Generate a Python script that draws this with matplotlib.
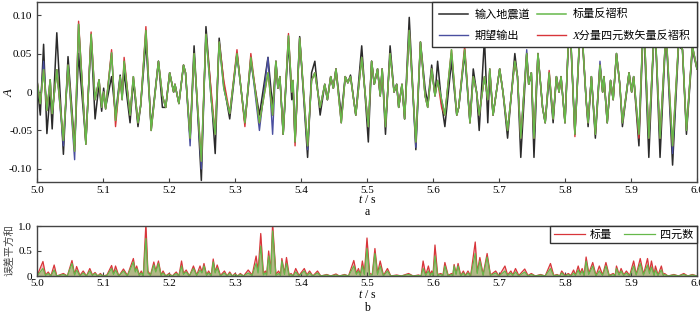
#!/usr/bin/env python3
"""
Deconvolution comparison: input trace vs desired output vs scalar / quaternion results,
plus squared error sum below.
"""

import matplotlib
matplotlib.use("Agg")
import matplotlib.pyplot as plt

plt.rcParams["font.family"] = ["Liberation Serif", "Noto Sans CJK SC"]
plt.rcParams["mathtext.fontset"] = "custom"
plt.rcParams["mathtext.it"] = "Liberation Serif:italic"
plt.rcParams["axes.unicode_minus"] = False

# extrema of the traces (t in s)
t_ext = [
    5.000, 5.005, 5.010, 5.015, 5.020, 5.023, 5.030, 5.040, 5.047, 5.057,
    5.063, 5.074, 5.082, 5.088, 5.094, 5.098, 5.101, 5.104, 5.113, 5.119,
    5.126, 5.129, 5.132, 5.141, 5.146, 5.153, 5.157, 5.165, 5.173, 5.184,
    5.190, 5.195, 5.201, 5.207, 5.209, 5.215, 5.222, 5.225, 5.232, 5.238,
    5.249, 5.256, 5.264, 5.270, 5.276, 5.283, 5.292, 5.303, 5.315, 5.324,
    5.337, 5.350, 5.357, 5.362, 5.365, 5.368, 5.373, 5.381, 5.386, 5.388,
    5.391, 5.398, 5.410, 5.416, 5.421, 5.429, 5.436, 5.440, 5.445, 5.449,
    5.453, 5.461, 5.467, 5.471, 5.475, 5.483, 5.492, 5.502, 5.507, 5.511,
    5.516, 5.520, 5.523, 5.528, 5.535, 5.541, 5.545, 5.548, 5.553, 5.557,
    5.564, 5.574, 5.581, 5.588, 5.592, 5.598, 5.603, 5.607, 5.613, 5.618,
    5.628, 5.636, 5.639, 5.648, 5.656, 5.661, 5.666, 5.670, 5.678, 5.683,
    5.686, 5.691, 5.701, 5.706, 5.713, 5.724, 5.728, 5.733, 5.742, 5.745,
    5.749, 5.753, 5.759, 5.766, 5.770, 5.776, 5.782, 5.787, 5.791, 5.794,
    5.800, 5.807, 5.815, 5.824, 5.832, 5.835, 5.840, 5.846, 5.853, 5.857,
    5.859, 5.864, 5.869, 5.873, 5.878, 5.883, 5.887, 5.897, 5.901, 5.904,
    5.912, 5.919, 5.927, 5.936, 5.944, 5.953, 5.963, 5.972, 5.978, 5.984,
    5.993, 6.000,
]

scalar_dec = [
    0.015, -0.015, 0.029, -0.024, 0.016, -0.028, 0.029, -0.063, 0.035, -0.077,
    0.088, -0.068, 0.075, -0.010, 0.016, -0.020, 0.000, -0.022, 0.051, -0.037,
    0.020, -0.010, 0.040, -0.030, 0.020, -0.040, -0.018, 0.080, -0.050, 0.040,
    -0.005, -0.020, 0.025, 0.000, 0.010, -0.015, 0.035, 0.025, -0.060, 0.050,
    -0.090, 0.075, -0.010, -0.055, 0.065, 0.005, -0.028, 0.050, -0.040, 0.045,
    -0.040, 0.025, -0.030, 0.040, 0.005, 0.020, -0.055, 0.073, 0.000, 0.015,
    -0.065, 0.070, -0.070, 0.015, 0.025, -0.020, 0.010, -0.010, 0.020, 0.005,
    0.030, -0.040, 0.020, 0.012, 0.020, -0.030, 0.045, -0.045, 0.040, 0.010,
    0.030, -0.005, 0.030, -0.045, 0.050, 0.000, 0.010, -0.020, 0.010, -0.035,
    0.080, -0.065, 0.065, -0.005, -0.020, 0.030, -0.005, 0.015, -0.010, -0.030,
    0.055, -0.030, -0.020, 0.055, -0.040, 0.020, 0.000, -0.030, 0.020, -0.010,
    0.030, -0.030, 0.030, 0.000, -0.050, 0.040, 0.020, -0.060, 0.050, 0.010,
    0.025, -0.060, 0.050, -0.020, -0.040, 0.025, -0.035, 0.020, 0.000, 0.020,
    -0.040, 0.105, -0.055, 0.105, -0.010, -0.040, 0.020, -0.055, 0.035, 0.000,
    0.020, -0.040, 0.015, -0.010, 0.050, 0.010, -0.040, 0.025, 0.000, 0.020,
    -0.055, 0.100, -0.060, 0.095, -0.060, 0.080, -0.070, 0.064, 0.055, -0.050,
    0.060, 0.030,
]

input_trace = [
    0.010, -0.030, 0.062, -0.054, 0.000, -0.048, 0.077, -0.081, 0.046, -0.070,
    0.050, -0.065, 0.070, -0.035, 0.010, -0.025, 0.005, -0.020, 0.020, -0.030,
    0.022, -0.005, 0.025, -0.040, 0.015, -0.045, -0.018, 0.065, -0.045, 0.040,
    -0.020, -0.020, 0.025, 0.000, 0.010, -0.015, 0.035, 0.025, -0.060, 0.060,
    -0.115, 0.085, -0.005, -0.080, 0.070, 0.010, -0.035, 0.050, -0.040, 0.040,
    -0.030, 0.045, -0.020, 0.040, 0.005, 0.020, -0.055, 0.065, -0.010, 0.005,
    -0.065, 0.072, -0.085, 0.025, 0.040, -0.030, 0.010, -0.010, 0.020, 0.005,
    0.030, -0.030, 0.020, 0.012, 0.022, -0.030, 0.060, -0.065, 0.040, 0.010,
    0.030, -0.005, 0.030, -0.055, 0.060, 0.000, 0.010, -0.020, 0.010, -0.035,
    0.097, -0.075, 0.065, 0.005, -0.015, 0.035, -0.005, 0.040, -0.015, -0.045,
    0.040, -0.030, -0.020, 0.050, -0.040, 0.030, 0.000, -0.050, 0.070, -0.040,
    0.025, -0.030, 0.030, 0.000, -0.060, 0.050, 0.020, -0.085, 0.050, 0.010,
    0.025, -0.085, 0.050, -0.020, -0.040, 0.020, -0.040, 0.020, 0.000, 0.020,
    -0.040, 0.100, -0.055, 0.100, -0.010, -0.045, 0.020, -0.060, 0.035, 0.000,
    0.020, -0.040, 0.015, -0.010, 0.050, 0.010, -0.045, 0.025, 0.000, 0.020,
    -0.070, 0.095, -0.085, 0.100, -0.085, 0.080, -0.095, 0.060, 0.055, -0.055,
    0.055, 0.030,
]

# where desired output / quaternion result depart visibly from the scalar result
desired_diff = {
    5.010: 0.040, 5.040: -0.070, 5.057: -0.088, 5.232: -0.070, 5.249: -0.100,
    5.337: -0.050, 5.350: 0.045, 5.357: -0.055, 5.410: -0.075, 5.574: -0.072,
    5.628: 0.050, 5.742: 0.055, 5.853: 0.040, 5.963: -0.080,
}
quat_diff = {
    5.063: 0.092, 5.082: 0.078, 5.113: 0.055, 5.119: -0.045, 5.132: 0.045,
    5.165: 0.085, 5.264: 0.000, 5.283: 0.015, 5.303: 0.055, 5.315: -0.045,
    5.324: 0.050, 5.381: 0.076, 5.391: -0.070, 5.613: -0.020, 5.648: 0.060,
    5.776: 0.028, 5.815: -0.058, 5.912: -0.060,
}

# squared error sum (lower panel)
err_t = [
    5.000, 5.009, 5.013, 5.017, 5.021, 5.026, 5.030, 5.040, 5.046, 5.053,
    5.057, 5.060, 5.065, 5.070, 5.075, 5.080, 5.084, 5.088, 5.092, 5.096,
    5.100, 5.106, 5.113, 5.116, 5.119, 5.124, 5.131, 5.137, 5.146, 5.149,
    5.151, 5.155, 5.158, 5.161, 5.165, 5.168, 5.172, 5.177, 5.180, 5.184,
    5.188, 5.191, 5.195, 5.200, 5.205, 5.211, 5.215, 5.219, 5.222, 5.226,
    5.231, 5.237, 5.242, 5.247, 5.250, 5.253, 5.257, 5.260, 5.264, 5.267,
    5.270, 5.273, 5.278, 5.284, 5.288, 5.292, 5.296, 5.300, 5.304, 5.308,
    5.313, 5.320, 5.326, 5.332, 5.335, 5.339, 5.343, 5.346, 5.348, 5.351,
    5.354, 5.357, 5.362, 5.366, 5.369, 5.371, 5.375, 5.378, 5.382, 5.385,
    5.388, 5.392, 5.397, 5.405, 5.409, 5.413, 5.418, 5.425, 5.430, 5.439,
    5.445, 5.453, 5.458, 5.466, 5.472, 5.480, 5.484, 5.487, 5.490, 5.493,
    5.496, 5.500, 5.504, 5.508, 5.512, 5.516, 5.520, 5.525, 5.531, 5.536,
    5.545, 5.552, 5.563, 5.570, 5.578, 5.582, 5.585, 5.589, 5.593, 5.596,
    5.598, 5.600, 5.603, 5.607, 5.612, 5.615, 5.618, 5.623, 5.628, 5.630,
    5.632, 5.635, 5.638, 5.642, 5.646, 5.649, 5.653, 5.657, 5.664, 5.667,
    5.671, 5.676, 5.682, 5.687, 5.695, 5.700, 5.709, 5.713, 5.718, 5.721,
    5.725, 5.730, 5.739, 5.744, 5.749, 5.755, 5.763, 5.770, 5.778, 5.783,
    5.788, 5.792, 5.795, 5.800, 5.805, 5.809, 5.813, 5.816, 5.820, 5.823,
    5.826, 5.829, 5.832, 5.836, 5.842, 5.847, 5.852, 5.857, 5.862, 5.867,
    5.873, 5.876, 5.878, 5.882, 5.885, 5.889, 5.893, 5.898, 5.904, 5.908,
    5.914, 5.919, 5.925, 5.928, 5.931, 5.935, 5.937, 5.941, 5.946, 5.949,
    5.951, 5.956, 5.965, 5.972, 5.980, 5.986, 5.993, 6.000,
]
err_scalar = [
    0.00, 0.29, 0.02, 0.08, 0.00, 0.22, 0.00, 0.05, 0.00, 0.31,
    0.03, 0.19, 0.01, 0.10, 0.00, 0.15, 0.02, 0.07, 0.00, 0.05,
    0.00, 0.02, 0.21, 0.05, 0.20, 0.00, 0.14, 0.01, 0.35, 0.10,
    0.20, 0.02, 0.10, 0.00, 1.05, 0.10, 0.02, 0.28, 0.10, 0.30,
    0.02, 0.10, 0.00, 0.05, 0.00, 0.08, 0.00, 0.30, 0.05, 0.12,
    0.00, 0.20, 0.02, 0.20, 0.08, 0.25, 0.02, 0.10, 0.01, 0.34,
    0.08, 0.22, 0.01, 0.10, 0.00, 0.08, 0.00, 0.05, 0.00, 0.05,
    0.00, 0.12, 0.02, 0.40, 0.10, 0.85, 0.05, 0.10, 0.03, 0.50,
    0.08, 1.05, 0.03, 0.10, 0.03, 0.35, 0.05, 0.37, 0.02, 0.05,
    0.00, 0.15, 0.01, 0.15, 0.02, 0.10, 0.00, 0.10, 0.00, 0.03,
    0.00, 0.04, 0.00, 0.03, 0.00, 0.31, 0.05, 0.15, 0.02, 0.30,
    0.05, 0.76, 0.05, 0.03, 0.55, 0.05, 0.30, 0.01, 0.15, 0.00,
    0.02, 0.00, 0.05, 0.00, 0.02, 0.00, 0.30, 0.02, 0.20, 0.02,
    0.10, 0.02, 0.62, 0.03, 0.05, 0.01, 0.27, 0.01, 0.05, 0.01,
    0.23, 0.05, 0.25, 0.01, 0.10, 0.01, 0.10, 0.00, 0.68, 0.08,
    0.37, 0.03, 0.45, 0.02, 0.10, 0.00, 0.20, 0.02, 0.10, 0.02,
    0.15, 0.01, 0.14, 0.01, 0.05, 0.00, 0.03, 0.00, 0.25, 0.01,
    0.03, 0.00, 0.10, 0.01, 0.05, 0.01, 0.12, 0.02, 0.20, 0.05,
    0.15, 0.02, 0.38, 0.05, 0.27, 0.01, 0.20, 0.02, 0.27, 0.01,
    0.05, 0.01, 0.20, 0.03, 0.15, 0.02, 0.10, 0.01, 0.30, 0.03,
    0.35, 0.03, 0.35, 0.08, 0.30, 0.02, 0.20, 0.02, 0.20, 0.02,
    0.05, 0.00, 0.03, 0.00, 0.05, 0.00, 0.03, 0.00,
]
err_quat = [
    0.00, 0.15, 0.01, 0.05, 0.00, 0.12, 0.00, 0.03, 0.00, 0.25,
    0.02, 0.12, 0.00, 0.06, 0.00, 0.10, 0.01, 0.05, 0.00, 0.03,
    0.00, 0.01, 0.15, 0.03, 0.12, 0.00, 0.10, 0.00, 0.28, 0.08,
    0.15, 0.01, 0.06, 0.00, 0.75, 0.06, 0.01, 0.22, 0.08, 0.25,
    0.01, 0.06, 0.00, 0.03, 0.00, 0.05, 0.00, 0.20, 0.03, 0.08,
    0.00, 0.15, 0.01, 0.12, 0.06, 0.20, 0.01, 0.06, 0.00, 0.28,
    0.06, 0.16, 0.00, 0.06, 0.00, 0.05, 0.00, 0.03, 0.00, 0.03,
    0.00, 0.06, 0.01, 0.25, 0.06, 0.60, 0.02, 0.06, 0.02, 0.40,
    0.05, 0.90, 0.01, 0.05, 0.01, 0.30, 0.03, 0.25, 0.01, 0.03,
    0.00, 0.08, 0.00, 0.10, 0.01, 0.06, 0.00, 0.06, 0.00, 0.02,
    0.00, 0.02, 0.00, 0.02, 0.00, 0.20, 0.03, 0.10, 0.01, 0.20,
    0.03, 0.55, 0.02, 0.02, 0.45, 0.03, 0.20, 0.00, 0.10, 0.00,
    0.01, 0.00, 0.03, 0.00, 0.01, 0.00, 0.15, 0.01, 0.10, 0.01,
    0.06, 0.01, 0.40, 0.01, 0.03, 0.00, 0.20, 0.00, 0.03, 0.00,
    0.20, 0.03, 0.20, 0.00, 0.06, 0.00, 0.06, 0.00, 0.45, 0.05,
    0.30, 0.01, 0.38, 0.01, 0.06, 0.00, 0.10, 0.01, 0.06, 0.01,
    0.08, 0.00, 0.08, 0.00, 0.03, 0.00, 0.02, 0.00, 0.15, 0.00,
    0.02, 0.00, 0.06, 0.00, 0.03, 0.00, 0.06, 0.01, 0.12, 0.03,
    0.10, 0.01, 0.30, 0.03, 0.20, 0.00, 0.10, 0.01, 0.20, 0.00,
    0.03, 0.00, 0.15, 0.02, 0.10, 0.01, 0.06, 0.00, 0.20, 0.02,
    0.25, 0.02, 0.22, 0.05, 0.18, 0.01, 0.12, 0.01, 0.12, 0.01,
    0.03, 0.00, 0.02, 0.00, 0.03, 0.00, 0.02, 0.00,
]

x_ticks = [5.0, 5.1, 5.2, 5.3, 5.4, 5.5, 5.6, 5.7, 5.8, 5.9, 6.0]
a_ticks = [0.10, 0.05, 0, -0.05, -0.10]
a_tick_labels = ["0.10", "0.05", "0", "-0.05", "-0.10"]

C_BLACK = "#2b2b2b"
C_BLUE = "#4a4fa0"
C_RED = "#d8353a"
C_GREEN = "#66b84a"


def style_axes(ax, xpad):
    ax.tick_params(direction="in", length=3, labelsize=8, color="#444444")
    ax.tick_params(axis="x", pad=xpad)
    for sp in ax.spines.values():
        sp.set_color("#444444")
        sp.set_linewidth(1.0)
    ax.set_xlim(5.0, 6.0)
    ax.set_xticks(x_ticks)
    ax.set_xticklabels([f"{v:.1f}" for v in x_ticks])


def main():
    fig = plt.figure(figsize=(7.0, 3.16), dpi=100)
    ax1 = fig.add_axes([37 / 700, 1 - 182 / 316, 660 / 700, 180 / 316])
    ax2 = fig.add_axes([37 / 700, 1 - 276 / 316, 660 / 700, 50 / 316])

    desired = [desired_diff.get(t, v) for t, v in zip(t_ext, scalar_dec)]
    quat = [quat_diff.get(t, v) for t, v in zip(t_ext, scalar_dec)]

    l_in, = ax1.plot(t_ext, input_trace, color=C_BLACK, lw=1.1, label="输入地震道")
    l_des, = ax1.plot(t_ext, desired, color=C_BLUE, lw=1.0, label="期望输出")
    l_q, = ax1.plot(t_ext, quat, color=C_RED, lw=1.0, label="X分量四元数矢量反褶积")
    l_s, = ax1.plot(t_ext, scalar_dec, color=C_GREEN, lw=1.1, label="标量反褶积")

    style_axes(ax1, 3)
    ax1.set_ylim(-0.117, 0.117)
    ax1.set_yticks(a_ticks)
    ax1.set_yticklabels(a_tick_labels)
    leg = ax1.legend(handles=[l_in, l_des, l_s, l_q], ncol=2, loc="upper right",
                     bbox_to_anchor=(1.0, 1.0), borderaxespad=0, fontsize=8,
                     frameon=True, fancybox=False, edgecolor="#333333",
                     framealpha=1, handlelength=2.6, handletextpad=0.6,
                     columnspacing=0.6, borderpad=0.6, labelspacing=0.95)
    # italic X falls back to the CJK face for the Chinese characters
    leg.get_texts()[3].set_fontstyle("italic")

    ax2.fill_between(err_t, err_scalar, color=C_RED, alpha=0.35, lw=0)
    l_es, = ax2.plot(err_t, err_scalar, color=C_RED, lw=0.9, label="标量")
    ax2.fill_between(err_t, err_quat, color=C_GREEN, alpha=0.45, lw=0)
    l_eq, = ax2.plot(err_t, err_quat, color=C_GREEN, lw=0.9, label="四元数")
    style_axes(ax2, 2)
    ax2.set_ylim(0, 1.0)
    ax2.set_yticks([0, 0.5, 1.0])
    ax2.set_yticklabels(["0", "0.5", "1.0"])
    ax2.legend(handles=[l_es, l_eq], ncol=2, loc="upper right",
               bbox_to_anchor=(1.0, 1.0), borderaxespad=0, fontsize=8,
               frameon=True, fancybox=False, edgecolor="#333333", framealpha=1,
               handlelength=2.8, handletextpad=0.5, columnspacing=1.0,
               borderpad=0.3)

    # axis titles placed in figure pixels, as in the source figure
    fig.text(9 / 700, 1 - 92 / 316, "$A$", ha="center", va="center",
             rotation=90, fontsize=9)
    fig.text(9 / 700, 1 - 250 / 316, "误差平方和", ha="center", va="center",
             rotation=90, fontsize=7.5, color="#444444")
    fig.text(367 / 700, 1 - 200 / 316, "$t$ / s", ha="center", va="center", fontsize=8.5)
    fig.text(367 / 700, 1 - 212 / 316, "a", ha="center", va="center", fontsize=8.5)
    fig.text(367 / 700, 1 - 295 / 316, "$t$ / s", ha="center", va="center", fontsize=8.5)
    fig.text(367 / 700, 1 - 308 / 316, "b", ha="center", va="center", fontsize=8.5)

    fig.savefig("out.png", dpi=100)


if __name__ == "__main__":
    main()
